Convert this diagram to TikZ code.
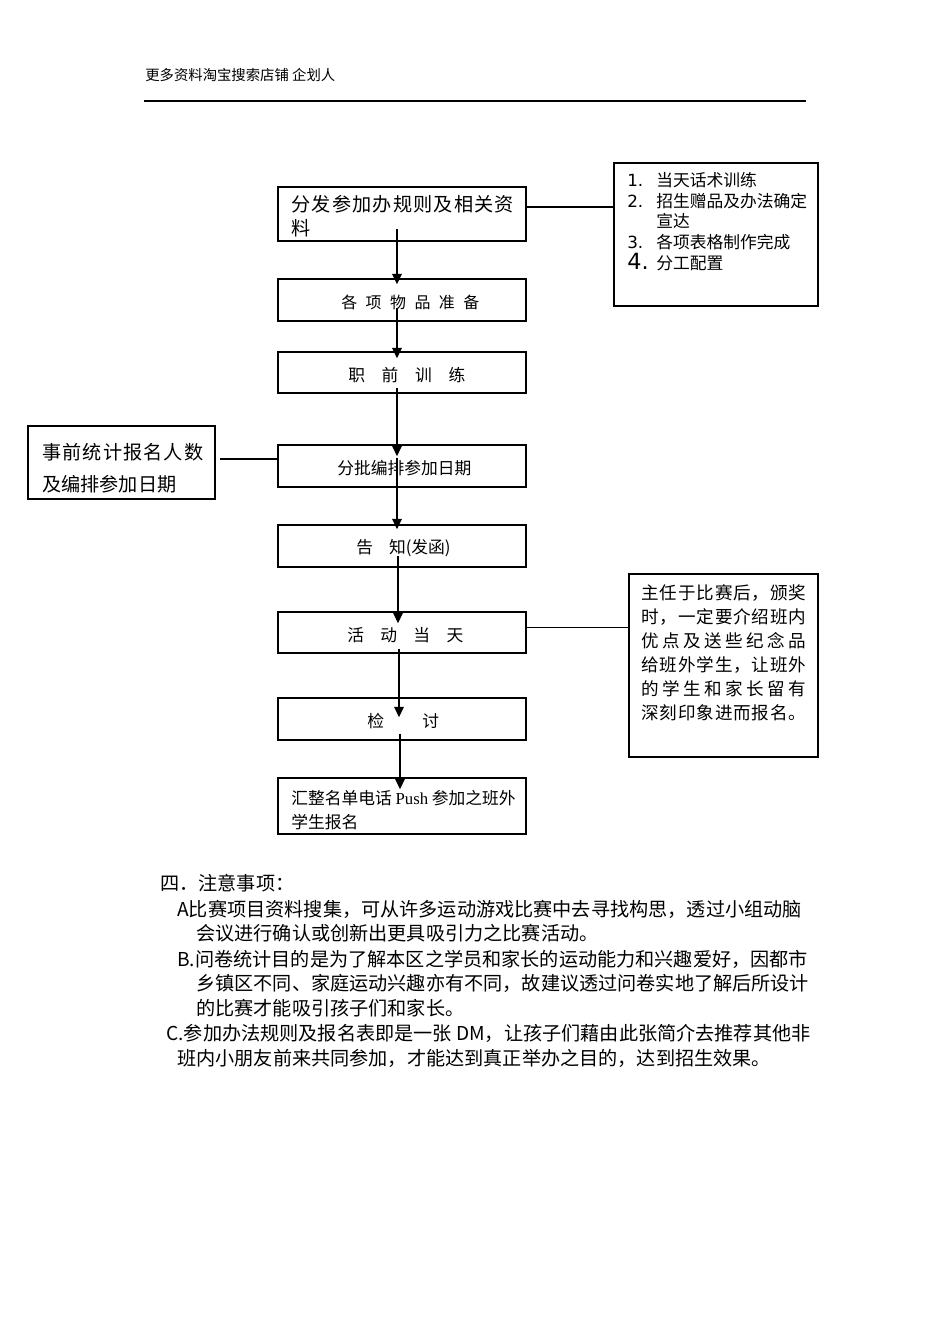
\documentclass[tikz,border=0pt]{standalone}
\usepackage{fontspec}
\setmainfont{Noto Sans CJK SC}
\newfontfamily\serif{Liberation Serif}
\newfontfamily\numf{DejaVu Sans}
\usetikzlibrary{arrows.meta,calc}
\newcommand\fs[2]{\fontsize{#1}{#2}\selectfont}
\makeatletter
\newcommand\spreadout[2]{\makebox[#1][s]{\@tfor\spch:=#2\do{\spch\hfil}\unskip}}
\makeatother
\def\u{0.6266pt}
\tikzset{
  box/.style={draw, line width=0.95pt, inner sep=0pt},
  tx/.style={inner sep=0pt, anchor=west},
  conn/.style={line width=0.75pt},
  arr/.style={line width=0.75pt, -{Triangle[width=6pt,length=6.5pt]}},
}
\begin{document}
\begin{tikzpicture}[x=0.6266pt, y=-0.6266pt]
\fill[white] (0,0) rectangle (950,1344);
\useasboundingbox (0,0) rectangle (950,1344);

% header
\node[tx, font=\fs{9}{11}] (hdr) at (145,75) {更多资料淘宝搜索店铺 企划人};
\coordinate (hl1) at (144,101);
\coordinate (hl2) at (806,101);
\draw[line width=1.1pt] (hl1) -- (hl2);

% main boxes
\node[box, minimum width=248*\u, minimum height=54*\u] (b1) at (402,214) {};
\node[box, minimum width=248*\u, minimum height=42*\u] (b2) at (402,300) {};
\node[box, minimum width=248*\u, minimum height=41*\u] (b3) at (402,372.5) {};
\node[box, minimum width=248*\u, minimum height=42*\u] (b4) at (402,466) {};
\node[box, minimum width=248*\u, minimum height=42*\u] (b5) at (402,546) {};
\node[box, minimum width=248*\u, minimum height=41*\u] (b6) at (402,632.5) {};
\node[box, minimum width=248*\u, minimum height=42*\u] (b7) at (402,719) {};
\node[box, minimum width=248*\u, minimum height=56*\u] (b8) at (402,806) {};

% side boxes
\node[box, minimum width=204*\u, minimum height=143*\u] (r1) at (716,234.5) {};
\node[box, minimum width=187*\u, minimum height=73*\u] (l1) at (121.5,462.5) {};
\node[box, minimum width=189*\u, minimum height=183*\u] (r2) at (723.5,665.5) {};

% texts in main boxes
\node[tx, font=\fs{12}{15}, align=left] (t1) at (291,216) {\spreadout{139.5pt}{分发参加办规则及相关资}\\料};
\node[tx, font=\fs{10}{12}] (t2) at (341,302) {\spreadout{86.5pt}{各项物品准备}};
\node[tx, font=\fs{10.5}{12}] (t3) at (348,375) {\spreadout{73.3pt}{职前训练}};
\node[tx, font=\fs{10.5}{12}] (t4) at (337,468) {分批编排参加日期};
\node[tx, font=\fs{10.5}{12}] (t5) at (356,548) {告\hspace{10pt}知(发函)};
\node[tx, font=\fs{10.5}{12}] (t6) at (347,635) {\spreadout{72.7pt}{活动当天}};
\node[tx, font=\fs{10.5}{12}] (t7) at (367,721) {\spreadout{45pt}{检讨}};
\node[tx, font=\fs{10.5}{15}, align=left] (t8) at (291,810) {汇整名单电话 {\serif Push} 参加之班外\\学生报名};

% list box
\node[tx, font=\fs{10.5}{13}, align=left] (tr1) at (627,221.5) {%
\makebox[18.2pt][l]{\numf 1.}当天话术训练\\
\makebox[18.2pt][l]{\numf 2.}招生赠品及办法确定\\
\makebox[18.2pt][l]{}宣达\\
\makebox[18.2pt][l]{\numf 3.}各项表格制作完成\\
\makebox[18.2pt][l]{\numf\fs{14}{13}4.}分工配置};

% left box
\node[tx, font=\fs{12}{20}, align=left] (tl1) at (42,468) {\spreadout{100.9pt}{事前统计报名人数}\\及编排参加日期};

% right box 2
\node[tx, font=\fs{11}{15}, align=left] (tr2) at (641,653) {%
\spreadout{103.4pt}{主任于比赛后，颁奖}\\
\spreadout{103.4pt}{时，一定要介绍班内}\\
\spreadout{103.4pt}{优点及送些纪念品}\\
\spreadout{103.4pt}{给班外学生，让班外}\\
\spreadout{103.4pt}{的学生和家长留有}\\
\spreadout{103.4pt}{深刻印象进而报名。}};

% arrows
\draw[arr] ($(b1.south)+(-5,-13)$) -- ($(b2.north)+(-5,6)$);
\draw[arr] ($(b2.south)+(-5,-14)$) -- ($(b3.north)+(-5,7)$);
\draw[arr] ($(b3.south)+(-5,-6)$) -- ($(b4.north)+(-5,12)$);
\draw[arr] ($(b4.south)+(-5,-30)$) -- ($(b5.north)+(-5,5)$);
\draw[arr] ($(b5.south)+(-4,-12)$) -- ($(b6.north)+(-4,12)$);
\draw[arr] ($(b6.south)+(-3,-5)$) -- ($(b7.north)+(-3,20)$);
\draw[arr] ($(b7.south)+(-2,-7)$) -- ($(b8.north)+(-2,12)$);

% side connectors
\coordinate (s1) at ($(b1.east)+(0,-7)$);
\draw[conn] (s1) -- (s1 -| r1.west);
\coordinate (s2) at ($(l1.east)+(4,-3.5)$);
\draw[conn] (s2) -- (s2 -| b4.west);
\coordinate (s3) at ($(b6.east)+(0,-5)$);
\draw[conn] (s3) -- (s3 -| r2.west);

% notes
\node[tx, font=\fs{12}{15}] (n0) at (160,883) {四．注意事项：};
\node[tx, font=\fs{12}{15}] (n1) at (177,909) {A比赛项目资料搜集，可从许多运动游戏比赛中去寻找构思，透过小组动脑};
\node[tx, font=\fs{12}{15}] (n2) at (196,933) {会议进行确认或创新出更具吸引力之比赛活动。};
\node[tx, font=\fs{12}{15}] (n3) at (177,959) {B.问卷统计目的是为了解本区之学员和家长的运动能力和兴趣爱好，因都市};
\node[tx, font=\fs{12}{15}] (n4) at (196,983) {乡镇区不同、家庭运动兴趣亦有不同，故建议透过问卷实地了解后所设计};
\node[tx, font=\fs{12}{15}] (n5) at (196,1008) {的比赛才能吸引孩子们和家长。};
\node[tx, font=\fs{12}{15}] (n6) at (166,1033) {C.参加办法规则及报名表即是一张 DM，让孩子们藉由此张简介去推荐其他非};
\node[tx, font=\fs{12}{15}] (n7) at (177,1058) {班内小朋友前来共同参加，才能达到真正举办之目的，达到招生效果。};
\end{tikzpicture}
\end{document}
